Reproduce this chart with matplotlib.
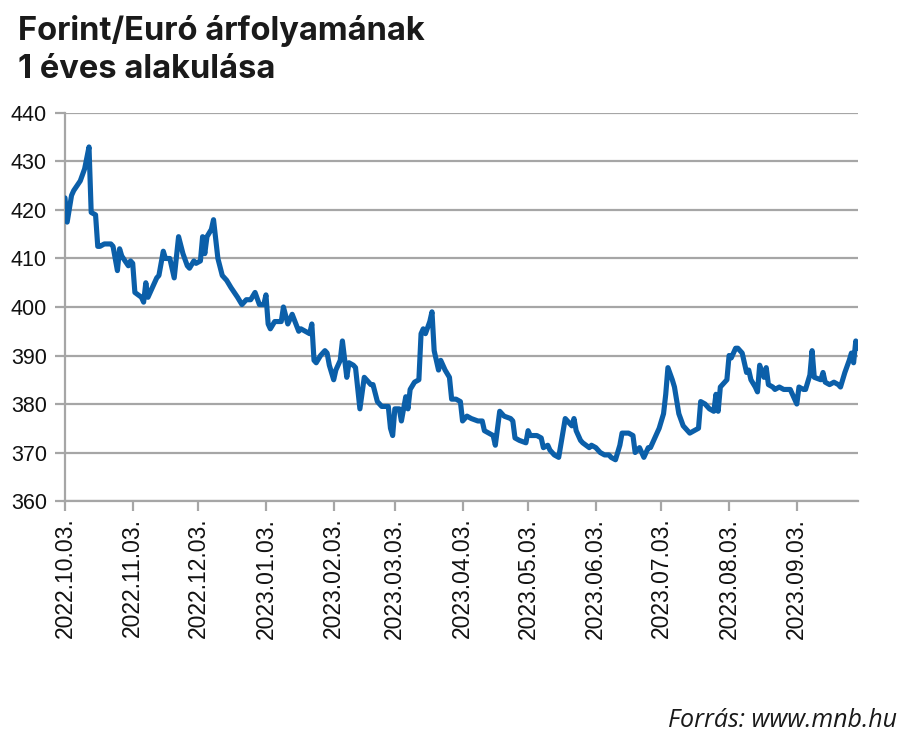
import pandas as pd
import matplotlib
matplotlib.use("Agg")
import matplotlib.pyplot as plt
import matplotlib.dates as mdates

# Forint/Euró árfolyam, leolvasott értékek
dates = [
    "2022-10-03", "2022-10-04", "2022-10-06", "2022-10-07", "2022-10-10", "2022-10-12",
    "2022-10-14", "2022-10-15", "2022-10-17", "2022-10-18", "2022-10-19", "2022-10-21",
    "2022-10-24", "2022-10-25", "2022-10-27", "2022-10-28", "2022-10-29", "2022-11-01",
    "2022-11-02", "2022-11-03", "2022-11-04", "2022-11-07", "2022-11-08", "2022-11-09",
    "2022-11-10", "2022-11-12", "2022-11-14", "2022-11-15", "2022-11-17", "2022-11-18",
    "2022-11-20", "2022-11-22", "2022-11-24", "2022-11-26", "2022-11-28", "2022-11-29",
    "2022-12-01", "2022-12-02", "2022-12-04", "2022-12-05", "2022-12-06", "2022-12-07",
    "2022-12-09", "2022-12-10", "2022-12-12", "2022-12-14", "2022-12-16", "2022-12-18",
    "2022-12-21", "2022-12-23", "2022-12-25", "2022-12-27", "2022-12-29", "2022-12-31",
    "2023-01-02", "2023-01-03", "2023-01-04", "2023-01-05", "2023-01-07", "2023-01-10",
    "2023-01-11", "2023-01-13", "2023-01-15", "2023-01-18", "2023-01-19", "2023-01-21",
    "2023-01-23", "2023-01-24", "2023-01-25", "2023-01-26", "2023-01-28", "2023-01-30",
    "2023-01-31", "2023-02-01", "2023-02-03", "2023-02-04", "2023-02-06", "2023-02-07",
    "2023-02-09", "2023-02-10", "2023-02-12", "2023-02-13", "2023-02-15", "2023-02-17",
    "2023-02-20", "2023-02-21", "2023-02-23", "2023-02-25", "2023-02-28", "2023-03-01",
    "2023-03-02", "2023-03-03", "2023-03-05", "2023-03-06", "2023-03-08", "2023-03-09",
    "2023-03-10", "2023-03-12", "2023-03-14", "2023-03-15", "2023-03-16", "2023-03-17",
    "2023-03-19", "2023-03-20", "2023-03-21", "2023-03-23", "2023-03-24", "2023-03-26",
    "2023-03-28", "2023-03-29", "2023-03-31", "2023-04-02", "2023-04-03", "2023-04-05",
    "2023-04-07", "2023-04-10", "2023-04-12", "2023-04-13", "2023-04-15", "2023-04-17",
    "2023-04-18", "2023-04-20", "2023-04-22", "2023-04-25", "2023-04-26", "2023-04-27",
    "2023-04-29", "2023-05-02", "2023-05-03", "2023-05-04", "2023-05-07", "2023-05-09",
    "2023-05-10", "2023-05-12", "2023-05-13", "2023-05-15", "2023-05-17", "2023-05-20",
    "2023-05-22", "2023-05-23", "2023-05-24", "2023-05-25", "2023-05-27", "2023-05-28",
    "2023-05-31", "2023-06-01", "2023-06-03", "2023-06-05", "2023-06-07", "2023-06-09",
    "2023-06-10", "2023-06-12", "2023-06-14", "2023-06-15", "2023-06-18", "2023-06-20",
    "2023-06-21", "2023-06-23", "2023-06-24", "2023-06-25", "2023-06-27", "2023-06-28",
    "2023-06-30", "2023-07-02", "2023-07-04", "2023-07-05", "2023-07-06", "2023-07-08",
    "2023-07-09", "2023-07-11", "2023-07-13", "2023-07-15", "2023-07-16", "2023-07-18",
    "2023-07-20", "2023-07-21", "2023-07-23", "2023-07-25", "2023-07-27", "2023-07-28",
    "2023-07-29", "2023-07-30", "2023-08-01", "2023-08-02", "2023-08-03", "2023-08-04",
    "2023-08-06", "2023-08-07", "2023-08-09", "2023-08-11", "2023-08-12", "2023-08-13",
    "2023-08-15", "2023-08-16", "2023-08-17", "2023-08-19", "2023-08-20", "2023-08-21",
    "2023-08-23", "2023-08-24", "2023-08-26", "2023-08-28", "2023-08-30", "2023-08-31",
    "2023-09-02", "2023-09-03", "2023-09-04", "2023-09-06", "2023-09-07", "2023-09-09",
    "2023-09-10", "2023-09-11", "2023-09-14", "2023-09-15", "2023-09-16", "2023-09-18",
    "2023-09-20", "2023-09-22", "2023-09-23", "2023-09-25", "2023-09-27", "2023-09-28",
    "2023-09-29", "2023-09-30", "2023-10-01",
]

eur_huf = [
    422.5, 417.5, 423.0, 424.0, 426.0, 428.5,
    433.0, 419.5, 419.0, 412.5, 412.5, 413.0,
    413.0, 412.5, 407.5, 412.0, 410.5, 408.5,
    409.5, 409.0, 403.0, 402.0, 401.0, 405.0,
    402.0, 404.0, 406.0, 406.5, 411.5, 410.0,
    410.0, 406.0, 414.5, 411.0, 408.5, 408.0,
    409.5, 409.0, 409.5, 414.5, 411.0, 414.5,
    416.0, 418.0, 410.0, 406.5, 405.5, 404.0,
    402.0, 400.5, 401.5, 401.5, 403.0, 400.5,
    400.5, 402.5, 396.5, 395.5, 397.0, 397.0,
    400.0, 396.5, 398.5, 395.0, 395.5, 395.0,
    394.5, 396.5, 389.0, 388.5, 390.0, 391.0,
    390.5, 388.0, 385.0, 387.0, 389.0, 393.0,
    385.5, 388.5, 388.0, 387.5, 379.0, 385.5,
    384.0, 384.0, 380.5, 379.5, 379.5, 375.0,
    373.5, 379.0, 379.0, 376.5, 381.5, 379.0,
    383.0, 384.5, 385.0, 394.5, 395.5, 394.5,
    397.0, 399.0, 391.0, 387.0, 389.0, 387.0,
    385.5, 381.0, 381.0, 380.5, 376.5, 377.5,
    377.0, 376.5, 376.5, 374.5, 374.0, 373.5,
    371.5, 378.5, 377.5, 377.0, 376.5, 373.0,
    372.5, 372.0, 374.5, 373.5, 373.5, 373.0,
    371.0, 371.5, 370.5, 369.5, 369.0, 377.0,
    376.0, 375.5, 377.0, 374.5, 372.5, 372.0,
    371.0, 371.5, 371.0, 370.0, 369.5, 369.5,
    369.0, 368.5, 371.5, 374.0, 374.0, 373.5,
    370.0, 371.0, 370.0, 369.0, 371.0, 371.0,
    373.0, 375.0, 378.0, 382.0, 387.5, 385.0,
    383.5, 378.0, 375.5, 374.5, 374.0, 374.5,
    375.0, 380.5, 380.0, 379.0, 378.5, 382.0,
    378.5, 383.5, 384.5, 385.0, 390.0, 389.5,
    391.5, 391.5, 390.5, 386.5, 387.0, 385.0,
    383.5, 382.5, 388.0, 385.5, 387.5, 384.0,
    383.5, 383.0, 383.5, 383.0, 383.0, 383.0,
    381.0, 380.0, 383.5, 383.0, 383.0, 386.0,
    391.0, 385.5, 385.0, 386.5, 384.5, 384.0,
    384.5, 384.0, 383.5, 386.5, 389.0, 390.5,
    388.5, 393.0, 391.5,
]

tick_dates = [
    "2022-10-03", "2022-11-03", "2022-12-03", "2023-01-03", "2023-02-03", "2023-03-03",
    "2023-04-03", "2023-05-03", "2023-06-03", "2023-07-03", "2023-08-03", "2023-09-03",
]
y_ticks = [360, 370, 380, 390, 400, 410, 420, 430, 440]

df = pd.DataFrame({"datum": pd.to_datetime(dates), "arfolyam": eur_huf})
ticks = pd.to_datetime(tick_dates)

grid_col = "#a6a6a6"
line_col = "#0b5fa9"

fig = plt.figure(figsize=(9, 7.37), dpi=100)
ax = fig.add_axes([0.0722, 0.3202, 0.8811, 0.5265])

ax.plot(df["datum"], df["arfolyam"], color=line_col, linewidth=3.7,
        solid_joinstyle="round", solid_capstyle="round", zorder=3)

ax.set_ylim(360, 440)
ax.set_yticks(y_ticks)
ax.set_xlim(pd.Timestamp("2022-10-03"), pd.Timestamp("2023-10-01"))
ax.set_xticks(ticks)
ax.xaxis.set_major_formatter(mdates.DateFormatter("%Y.%m.%d."))

ax.grid(axis="y", color=grid_col, linewidth=1.6, zorder=1)
for side in ["top", "right"]:
    ax.spines[side].set_visible(False)
for side in ["left", "bottom"]:
    ax.spines[side].set_color(grid_col)
    ax.spines[side].set_linewidth(1.6)
ax.tick_params(axis="both", color=grid_col, width=1.6, length=7, direction="out")
ax.tick_params(axis="y", pad=6)
ax.tick_params(axis="x", pad=5)

for lab in ax.get_yticklabels():
    lab.set_fontfamily("Liberation Sans")
    lab.set_fontsize(15.5)
    lab.set_color("#111111")
for lab in ax.get_xticklabels():
    lab.set_fontfamily("Liberation Sans")
    lab.set_fontsize(16.5)
    lab.set_color("#111111")
    lab.set_rotation(90)

fig.text(0.02, 0.98, "Forint/Euró árfolyamának\n1 éves alakulása", ha="left", va="top",
         fontsize=23.5, fontweight="bold", family="Inter", color="#1a1a1a", linespacing=1.3)
fig.text(0.997, 0.006, "Forrás: www.mnb.hu", ha="right", va="bottom",
         fontsize=18, style="italic", family="Open Sans", color="#1a1a1a")

fig.savefig("out.png", dpi=100)
